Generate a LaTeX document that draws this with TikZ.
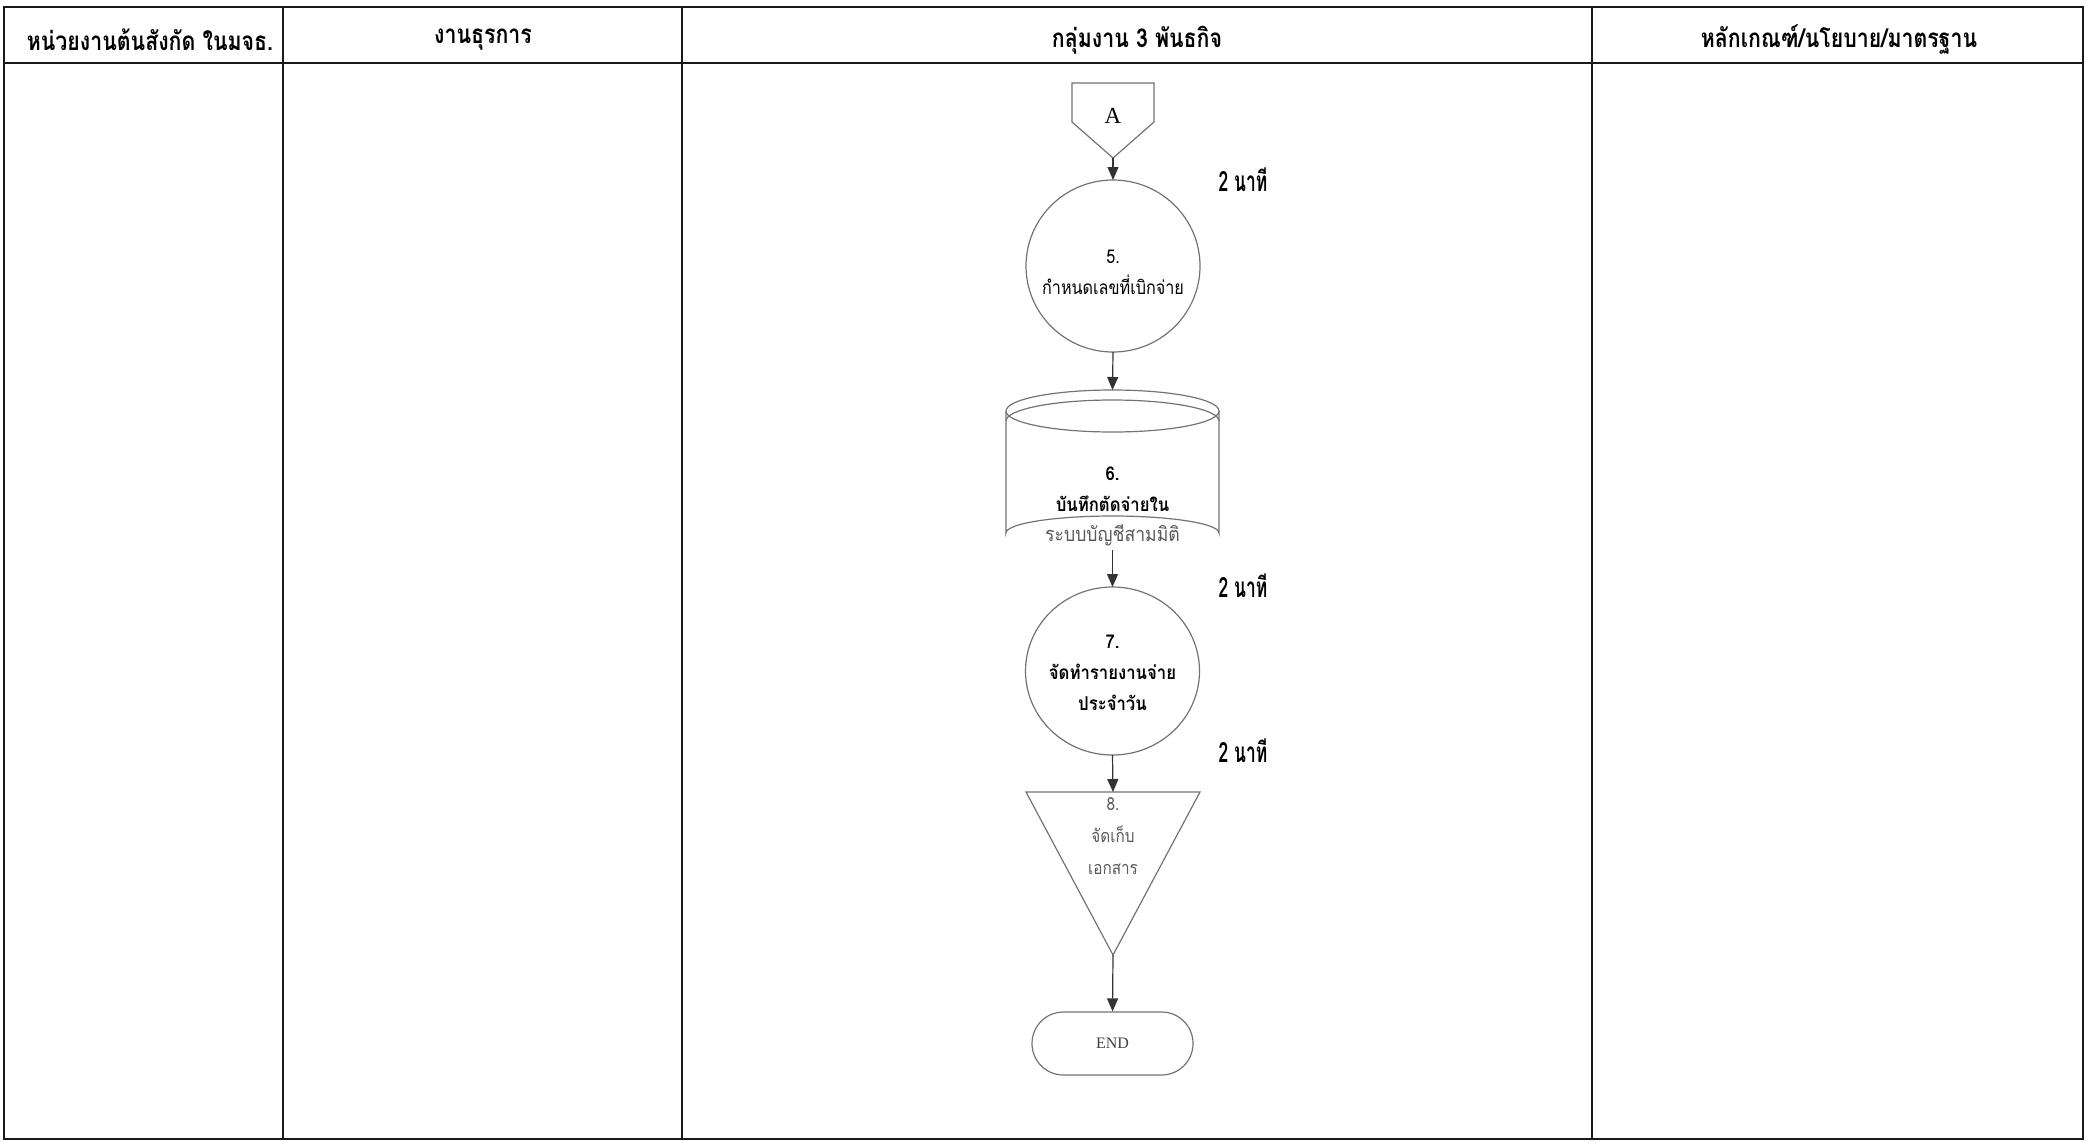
\documentclass[tikz,border=0pt]{standalone}
\usepackage{fontspec}
\setmainfont{Liberation Serif}
\newfontfamily\thaihead[Script=Thai,FakeStretch=0.82]{Loma}
\newfontfamily\thaibody[Script=Thai,FakeStretch=0.88]{Loma}
\newfontfamily\thaiwide[Script=Thai,FakeStretch=0.85]{Loma}
\newfontfamily\thainarrow[Script=Thai,FakeStretch=0.62]{Loma}
\usetikzlibrary{arrows.meta,shapes.geometric}

\tikzset{
  frame/.style={line width=1.4pt,draw=black!90},
  head/.style={font=\thaihead\bfseries\fontsize{13}{15}\selectfont},
  shapeline/.style={draw=black!55,line width=0.6pt},
  proc/.style={ellipse,shapeline,inner sep=0pt,outer sep=0pt},
  box/.style={inner sep=0pt,outer sep=0pt},
  steptext/.style={align=center,font=\thaibody\fontsize{9.5}{15.5}\selectfont},
  boldstep/.style={align=center,font=\thaibody\bfseries\fontsize{9.5}{15.5}\selectfont},
  flow/.style={draw=black!80,line width=0.6pt,
    -{Triangle[width=5.5pt,length=6.5pt]}},
  timenote/.style={font=\thainarrow\bfseries\fontsize{14}{16}\selectfont},
}

\begin{document}
\begin{tikzpicture}[x=0.5pt,y=-0.5pt]
\useasboundingbox (0,0) rectangle (2086,1141);

% table frame and lanes
\draw[frame] (4,7) rectangle (2083,1139);
\draw[frame] (4,63) -- (2083,63);
\foreach \x in {283,682,1592} \draw[frame] (\x,7) -- (\x,1139);

% lane headings
\node[head] (h1) at (150,40) {หน่วยงานต้นสังกัด ในมจธ.};
\node[head] (h2) at (483,40) {งานธุรการ};
\node[head] (h3) at (1137,40) {กลุ่มงาน 3 พันธกิจ};
\node[head] (h4) at (1839,40) {หลักเกณฑ์/นโยบาย/มาตรฐาน};

% off-page connector A
\draw[shapeline] (1072,83) -- (1154,83) -- (1154,122) -- (1113,158)
  -- (1072,122) -- cycle;
\node[font=\fontsize{11.5}{14}\selectfont] (A) at (1113,116) {A};
\coordinate (Atip) at (1113,158);

% step 5
\node[proc,minimum width=87pt,minimum height=86pt] (s5) at (1113,266) {};
\node[align=center,font=\thaiwide\fontsize{9.5}{15.5}\selectfont]
  (t5) at (1113,272) {5.\\กำหนดเลขที่เบิกจ่าย};

% step 6: stored data (cylinder)
\node[box,minimum width=106.5pt,minimum height=80pt] (s6) at (1112.5,470) {};
\draw[shapeline] (1006,411) -- (1006,533)
  arc[start angle=180,end angle=360,x radius=106.5,y radius=17]
  -- (1219,411);
\draw[shapeline] (1112.5,411) ellipse[x radius=106.5,y radius=21];
\draw[shapeline] (1006,421)
  arc[start angle=180,end angle=360,x radius=106.5,y radius=21];
\node[boldstep] (t6) at (1112.5,489) {6.\\บันทึกตัดจ่ายใน};
\node[steptext,text=black!65,font=\thaibody\fontsize{10}{15.5}\selectfont]
  (t6b) at (1112.5,535) {ระบบบัญชีสามมิติ};

% step 7
\node[proc,minimum width=87pt,minimum height=84pt] (s7) at (1112.5,671) {};
\node[boldstep] (t7) at (1112.5,673) {7.\\จัดทำรายงานจ่าย\\ประจำวัน};

% step 8: filing (inverted triangle)
\node[box,minimum width=87pt,minimum height=81.5pt] (s8) at (1113,873.5) {};
\draw[shapeline] (1026,792) -- (1200,792) -- (1113,955) -- cycle;
\node[align=center,text=black!65,font=\thaiwide\fontsize{9}{16}\selectfont]
  (t8) at (1113,836) {8.\\จัดเก็บ\\เอกสาร};

% terminator
\node[shapeline,rounded corners=15.7pt,minimum width=80.5pt,
  minimum height=31.5pt,inner sep=0pt,text=black!75,
  font=\fontsize{8}{10}\selectfont] (e) at (1112.5,1043.5) {END};

% flow
\draw[flow] (Atip) -- (s5.north);
\draw[flow] (s5.south) -- (s6.north);
\draw[flow] (s6.south) -- (s7.north);
\draw[flow] (s7.south) -- (s8.north);
\draw[flow] (s8.south) -- (e.north);

% durations
\node[timenote] (d1) at (1243,180) {2 นาที};
\node[timenote] (d2) at (1243,586) {2 นาที};
\node[timenote] (d3) at (1243,751) {2 นาที};
\end{tikzpicture}
\end{document}
